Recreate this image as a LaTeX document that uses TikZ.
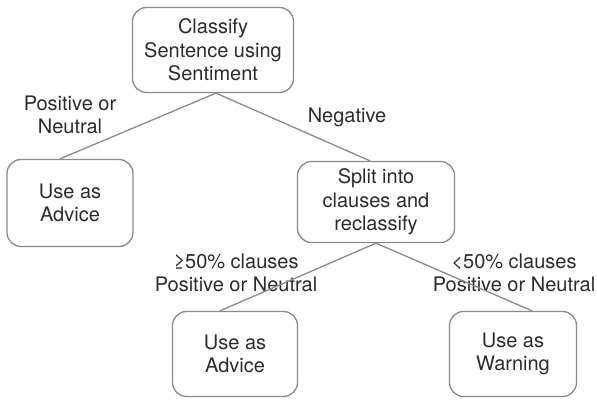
\documentclass[tikz,border=0pt]{standalone}
\usepackage{fontspec}
\setmainfont{TeX Gyre Heros}
\usetikzlibrary{calc}
\definecolor{edgegray}{HTML}{8A8A8A}
\definecolor{txt}{HTML}{2B2B2B}
\tikzset{
  box/.style={draw=edgegray, line width=1.3pt, rounded corners=14pt, align=center,
    text=txt, inner sep=0pt, font=\fontsize{20}{23.5}\selectfont},
  lbl/.style={align=center, text=txt, inner sep=0pt, font=\fontsize{20}{23.5}\selectfont},
  conn/.style={draw=edgegray, line width=1.3pt}
}
\begin{document}
\begin{tikzpicture}[x=1pt,y=-1pt]
\useasboundingbox (0,0) rectangle (597,401);
\node[box, minimum width=161pt, minimum height=85pt] (top) at (213,50) {Classify\\Sentence using\\Sentiment};
\node[box, minimum width=126pt, minimum height=87pt] (adv1) at (70,203) {Use as\\Advice};
\node[box, minimum width=157pt, minimum height=81pt] (split) at (376,202) {Split into\\clauses and\\reclassify};
\node[box, minimum width=125pt, minimum height=85pt] (adv2) at (235,354) {Use as\\Advice};
\node[box, minimum width=127pt, minimum height=85pt] (warn) at (513,354) {Use as\\Warning};

\node[lbl] (l1) at (70,115) {Positive or\\Neutral};
\node[lbl] (l2) at (347,117) {Negative};
\node[lbl] (l3) at (236,273) {≥50\% clauses\\Positive or Neutral};
\node[lbl] (l4) at (514,273) {<50\% clauses\\Positive or Neutral};

\draw[conn] ($(top.south)+(3,0)$) -- ($(adv1.north)+(-10,0)$);
\draw[conn] ($(top.south)+(3,0)$) -- ($(split.north)+(-6,0)$);
\draw[conn] (split.south) -- ($(adv2.north)+(-15,0)$);
\draw[conn] (split.south) -- ($(warn.north)+(19,0)$);
\end{tikzpicture}
\end{document}
